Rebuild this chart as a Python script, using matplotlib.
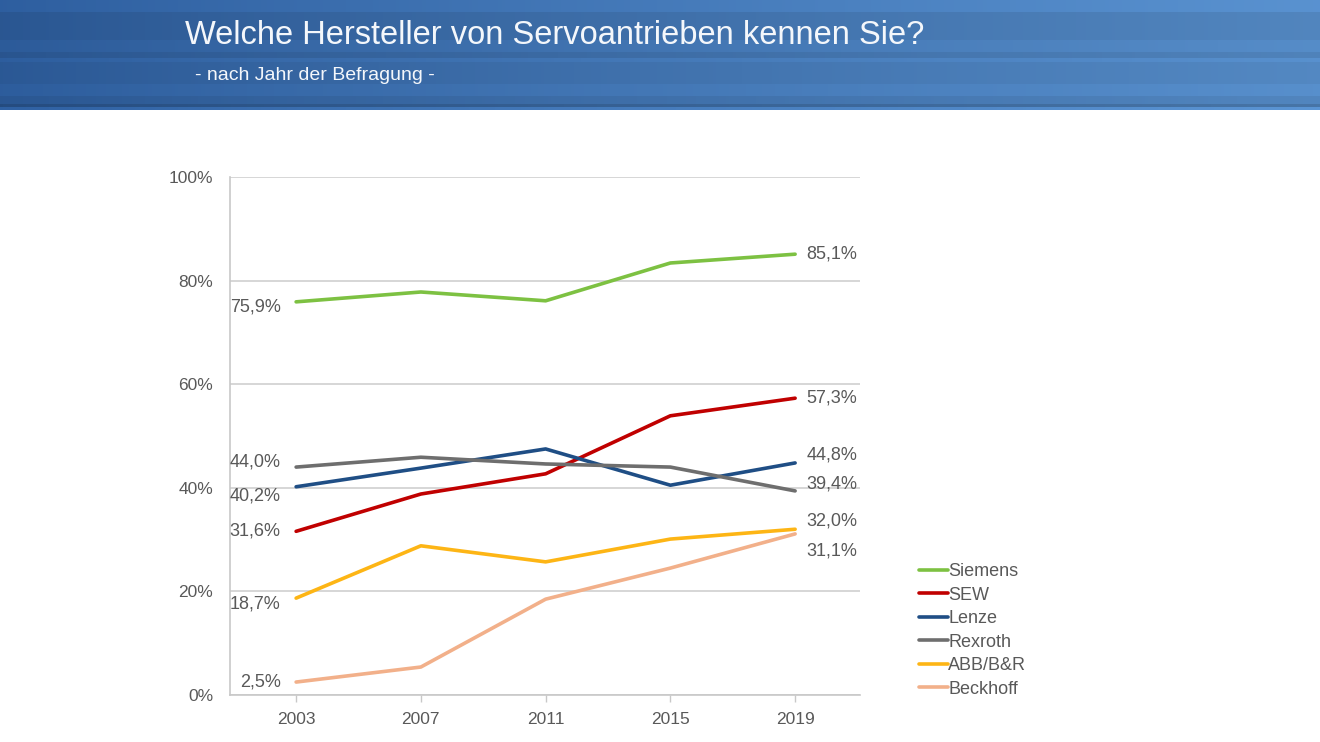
import numpy as np
import matplotlib
matplotlib.use("Agg")
import matplotlib.pyplot as plt

plt.rcParams['font.family'] = ['Liberation Sans', 'DejaVu Sans']

# daten
jahre = ["2003", "2007", "2011", "2015", "2019"]
hersteller = ["Siemens", "SEW", "Lenze", "Rexroth", "ABB/B&R", "Beckhoff"]
siemens = [75.9, 77.8, 76.1, 83.4, 85.1]
sew = [31.6, 38.8, 42.7, 53.9, 57.3]
lenze = [40.2, 43.8, 47.5, 40.5, 44.8]
rexroth = [44.0, 45.9, 44.6, 44.0, 39.4]
abb = [18.7, 28.8, 25.7, 30.1, 32.0]
beckhoff = [2.5, 5.4, 18.5, 24.5, 31.1]
werte = [siemens, sew, lenze, rexroth, abb, beckhoff]

farben = ["#7dc142", "#c00000", "#1f4e85", "#6e6e6e", "#fdb515", "#f2b08a"]
# label versatz in punkten (links, rechts)
off_links = [-4, 0, -7, 4, -4, 0]
off_rechts = [0, 0, 6, 5, 6, -12]

fig = plt.figure(figsize=(13.2, 7.42), dpi=100)

# kopfzeile mit blauem verlauf
kopf = fig.add_axes([0, 1 - 110 / 742, 1, 110 / 742])
kopf.set_axis_off()
h, w = 110, 400
gx = np.linspace(0, 1, w)
links = np.array([0.17, 0.35, 0.59])
rechts = np.array([0.33, 0.54, 0.77])
bild = links[None, None, :] + (rechts - links)[None, None, :] * gx[None, :, None] ** 0.9
zeilen = np.ones(h)
zeilen[0:12] = 1.06
zeilen[12:40] = 0.97
zeilen[40:52] = 1.02
zeilen[52:58] = 0.95
zeilen[58:62] = 1.05
zeilen[62:84] = 0.99
zeilen[84:96] = 1.04
zeilen[96:104] = 0.97
zeilen[104:107] = 0.85
zeilen[107:110] = 1.08
bild = np.clip(bild * zeilen[:, None, None], 0, 1)
kopf.imshow(bild, aspect='auto', extent=[0, 1, 0, 1])
kopf.set_xlim(0, 1)
kopf.set_ylim(0, 1)
fig.text(185 / 1320, 1 - 36 / 742, "Welche Hersteller von Servoantrieben kennen Sie?",
         color="#f4f7fb", fontsize=23.5, va="center", ha="left")
fig.text(195 / 1320, 1 - 75 / 742, "- nach Jahr der Befragung -",
         color="#f4f7fb", fontsize=14, va="center", ha="left")

ax = fig.add_axes([230 / 1320, 1 - 695 / 742, 630 / 1320, 518 / 742])
x = np.arange(len(jahre))
for name, y, c, ol, orr in zip(hersteller, werte, farben, off_links, off_rechts):
    ax.plot(x, y, color=c, lw=2.6, label=name, solid_capstyle='round')
    ax.annotate(f"{y[0]:.1f}%".replace(".", ","), (x[0], y[0]), xytext=(-11, ol),
                textcoords="offset points", ha="right", va="center",
                fontsize=13, color="#595959")
    ax.annotate(f"{y[-1]:.1f}%".replace(".", ","), (x[-1], y[-1]), xytext=(8, orr),
                textcoords="offset points", ha="left", va="center",
                fontsize=13, color="#595959")

ax.set_xlim(-0.53, 4.52)
ax.set_ylim(0, 100)
ax.set_xticks(x)
ax.set_xticklabels(jahre)
ax.set_yticks(range(0, 101, 20))
ax.set_yticklabels([f"{v}%" for v in range(0, 101, 20)])
ax.tick_params(axis='both', labelsize=12.5, colors="#595959", length=0, pad=12)
ax.tick_params(axis='x', length=5, color="#c8c8c8", width=1, pad=7)
ax.grid(axis='y', color="#d0d0d0", lw=1.2)
ax.set_axisbelow(True)
for s in ["top", "right"]:
    ax.spines[s].set_visible(False)
ax.spines["left"].set_color("#c8c8c8")
ax.spines["bottom"].set_color("#c8c8c8")
ax.spines["left"].set_linewidth(1.2)
ax.spines["bottom"].set_linewidth(1.2)

leg = fig.legend(loc="upper left", bbox_to_anchor=(903 / 1320, 1 - 547 / 742),
                 frameon=False, fontsize=13, handlelength=1.6, handletextpad=0.0,
                 labelspacing=0.36)
for t in leg.get_texts():
    t.set_color("#595959")
for l in leg.get_lines():
    l.set_linewidth(2.6)

fig.savefig("out.png", dpi=100)
